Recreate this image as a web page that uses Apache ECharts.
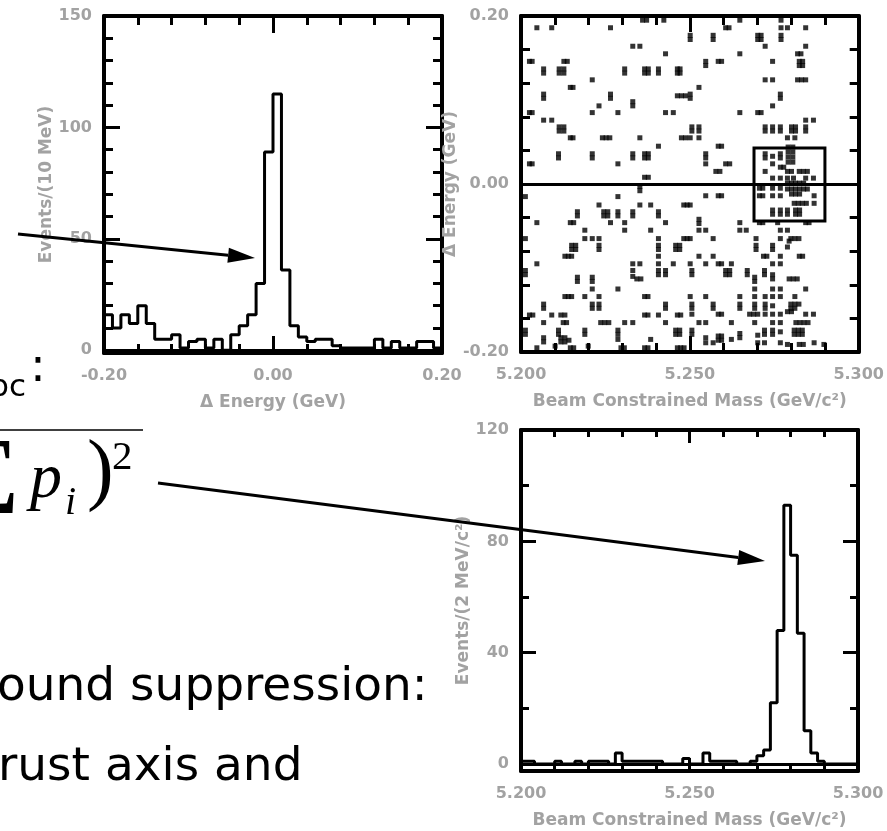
<!DOCTYPE html>
<html><head><meta charset="utf-8">
<script src="https://cdn.jsdelivr.net/npm/echarts@6/dist/echarts.min.js"></script>
<style>html,body{margin:0;padding:0;background:#fff}#c{width:887px;height:831px}</style>
</head><body><div id="c"></div>
<script>
// ---------- data ----------
const energyBinStart = -0.20;
const energyBinWidth = 0.01;
const energyCounts = [16,10,16,12,20,12,5,5,7,1,4,5,1,5,0,7,11,16,30,89,115,36,11,6,4,5,5,2,1,1,1,1,5,1,4,1,1,4,4,1];

const mbcBinStart = 5.200;
const mbcBinWidth = 0.002;
const mbcCounts = [1,1,0,0,0,1,0,0,1,0,1,1,1,0,4,1,1,1,1,1,1,0,0,0,2,0,0,4,1,1,1,1,0,0,1,3,5,22,48,93,75,47,12,4,1,0,0,0,0,0];

const energyCountLabels = [0,50,100,150];
const energyCountMinor = [10,20,30,40,60,70,80,90,110,120,130,140];
const mbcCountLabels = [0,40,80,120];
const mbcCountMinor = [20,60,100];

const signalBox = [[5.269, 0.043], [5.290, -0.044]];

const scatterPoints = [
[5.2047,0.186],[5.2091,0.186],[5.2265,0.186],[5.2360,0.195],[5.2372,0.195],[5.2423,0.195],
[5.2331,0.164],[5.2352,0.164],[5.2428,0.155],
[5.2025,0.146],[5.2033,0.146],[5.2127,0.146],[5.2137,0.146],
[5.2067,0.137],[5.2067,0.132],[5.2113,0.137],[5.2127,0.137],[5.2113,0.132],[5.2127,0.132],
[5.2307,0.137],[5.2307,0.132],[5.2366,0.137],[5.2377,0.137],[5.2366,0.132],[5.2377,0.132],
[5.2407,0.137],[5.2407,0.132],[5.2463,0.137],[5.2471,0.137],[5.2463,0.132],[5.2471,0.132],
[5.2211,0.124],[5.2146,0.115],[5.2154,0.115],
[5.2067,0.107],[5.2067,0.102],[5.2265,0.107],[5.2265,0.102],[5.2463,0.105],[5.2475,0.105],[5.2487,0.105],
[5.2231,0.093],[5.2331,0.098],[5.2331,0.093],
[5.2025,0.085],[5.2033,0.085],[5.2211,0.085],[5.2287,0.085],[5.2428,0.085],[5.2451,0.085],
[5.2067,0.076],[5.2091,0.076],
[5.2113,0.068],[5.2127,0.068],[5.2113,0.063],[5.2127,0.063],
[5.2146,0.055],[5.2154,0.055],[5.2241,0.055],[5.2252,0.055],[5.2263,0.055],[5.2352,0.055],[5.2475,0.055],[5.2487,0.055],
[5.2407,0.045],
[5.2111,0.036],[5.2111,0.031],[5.2211,0.036],[5.2211,0.031],[5.2331,0.036],[5.2331,0.031],
[5.2366,0.036],[5.2377,0.036],[5.2366,0.031],[5.2377,0.031],
[5.2025,0.024],[5.2033,0.024],[5.2287,0.024],[5.2366,0.008],[5.2377,0.008],
[5.2648,0.195],[5.2606,0.186],[5.2616,0.186],[5.2770,0.195],[5.2770,0.186],[5.2789,0.186],[5.2843,0.186],
[5.2501,0.177],[5.2501,0.172],[5.2569,0.177],[5.2569,0.172],
[5.2701,0.177],[5.2711,0.177],[5.2701,0.172],[5.2711,0.172],
[5.2770,0.177],[5.2770,0.172],
[5.2723,0.164],[5.2843,0.164],
[5.2648,0.155],[5.2819,0.155],[5.2829,0.155],
[5.2547,0.146],[5.2547,0.141],[5.2584,0.146],[5.2594,0.146],[5.2745,0.146],
[5.2824,0.146],[5.2834,0.146],[5.2824,0.141],[5.2834,0.141],
[5.2723,0.124],[5.2745,0.124],[5.2819,0.124],[5.2831,0.124],[5.2843,0.124],
[5.2527,0.115],
[5.2501,0.107],[5.2501,0.102],[5.2768,0.107],[5.2768,0.102],
[5.2745,0.093],
[5.2648,0.085],[5.2701,0.085],[5.2711,0.085],
[5.2843,0.076],[5.2866,0.076],
[5.2506,0.068],[5.2506,0.063],[5.2527,0.068],[5.2527,0.063],
[5.2723,0.068],[5.2723,0.063],[5.2745,0.068],[5.2745,0.063],[5.2768,0.068],[5.2768,0.063],
[5.2801,0.068],[5.2813,0.068],[5.2801,0.063],[5.2813,0.063],
[5.2843,0.068],[5.2843,0.063],
[5.2501,0.055],[5.2527,0.055],[5.2789,0.055],[5.2811,0.055],
[5.2584,0.045],[5.2594,0.045],
[5.2791,0.044],[5.2805,0.044],[5.2791,0.038],[5.2805,0.038],[5.2791,0.032],[5.2805,0.032],[5.2791,0.026],[5.2805,0.026],
[5.2547,0.036],[5.2547,0.031],
[5.2723,0.036],[5.2723,0.031],[5.2745,0.033],[5.2768,0.036],[5.2768,0.031],
[5.2547,0.024],[5.2606,0.024],[5.2618,0.024],[5.2745,0.024],
[5.2768,0.020],[5.2778,0.020],
[5.2577,0.015],[5.2589,0.015],[5.2723,0.015],[5.2789,0.015],[5.2801,0.015],
[5.2824,0.015],[5.2836,0.015],[5.2848,0.015],
[5.2745,0.007],[5.2768,0.007],[5.2789,0.007],[5.2807,0.007],[5.2843,0.007],[5.2866,0.007],
[5.2706,-0.005],[5.2716,-0.005],[5.2745,-0.005],[5.2768,-0.005],
[5.2789,0.001],[5.2801,0.001],[5.2813,0.001],[5.2825,0.001],[5.2837,0.001],
[5.2789,-0.006],[5.2801,-0.006],[5.2813,-0.006],[5.2825,-0.006],[5.2837,-0.006],[5.2848,-0.006],
[5.2801,-0.012],[5.2813,-0.012],[5.2825,-0.012],
[5.2706,-0.014],[5.2716,-0.014],[5.2745,-0.014],[5.2768,-0.014],[5.2868,-0.014],
[5.2809,-0.023],[5.2821,-0.023],[5.2833,-0.023],[5.2845,-0.023],[5.2868,-0.023],
[5.2745,-0.031],[5.2745,-0.036],[5.2768,-0.031],[5.2768,-0.036],[5.2789,-0.031],[5.2789,-0.036],
[5.2813,-0.031],[5.2825,-0.031],[5.2813,-0.036],[5.2825,-0.036],
[5.2706,-0.046],[5.2716,-0.046],[5.2760,-0.046],[5.2843,-0.046],[5.2853,-0.046],
[5.2547,-0.014],[5.2584,-0.014],[5.2594,-0.014],[5.2501,-0.025],
[5.2527,-0.042],[5.2527,-0.047],[5.2648,-0.046],
[5.2527,-0.055],[5.2547,-0.055],[5.2648,-0.055],[5.2667,-0.055],[5.2768,-0.055],[5.2789,-0.055],
[5.2501,-0.065],[5.2569,-0.065],[5.2696,-0.065],[5.2768,-0.065],[5.2799,-0.065],[5.2811,-0.065],[5.2823,-0.065],[5.2794,-0.068],
[5.2696,-0.073],[5.2696,-0.078],[5.2745,-0.073],[5.2745,-0.078],[5.2789,-0.075],
[5.2527,-0.086],[5.2569,-0.086],[5.2718,-0.086],[5.2728,-0.086],[5.2768,-0.086],[5.2824,-0.086],[5.2834,-0.086],
[5.2501,-0.095],[5.2547,-0.095],[5.2584,-0.095],[5.2594,-0.095],[5.2623,-0.095],[5.2745,-0.095],[5.2768,-0.095],
[5.2506,-0.103],[5.2506,-0.108],[5.2606,-0.103],[5.2618,-0.103],[5.2606,-0.108],[5.2618,-0.108],
[5.2670,-0.103],[5.2670,-0.108],[5.2721,-0.103],[5.2721,-0.108],[5.2745,-0.108],
[5.2692,-0.111],[5.2692,-0.116],[5.2745,-0.113],[5.2794,-0.113],[5.2806,-0.113],[5.2818,-0.113],
[5.2692,-0.125],[5.2745,-0.125],[5.2768,-0.125],[5.2843,-0.125],
[5.2501,-0.134],[5.2547,-0.134],[5.2648,-0.134],[5.2692,-0.134],[5.2723,-0.134],[5.2745,-0.134],[5.2768,-0.134],[5.2811,-0.134],
[5.2506,-0.143],[5.2506,-0.148],[5.2569,-0.143],[5.2569,-0.148],[5.2648,-0.143],[5.2648,-0.148],
[5.2692,-0.143],[5.2692,-0.148],[5.2723,-0.143],[5.2723,-0.148],[5.2745,-0.145],
[5.2799,-0.143],[5.2811,-0.143],[5.2823,-0.143],[5.2799,-0.148],[5.2811,-0.148],
[5.2506,-0.155],[5.2584,-0.155],[5.2594,-0.155],[5.2677,-0.155],[5.2689,-0.155],[5.2701,-0.155],
[5.2723,-0.155],[5.2745,-0.155],[5.2768,-0.155],[5.2789,-0.152],[5.2801,-0.152],[5.2843,-0.155],[5.2866,-0.155],
[5.2527,-0.165],[5.2547,-0.165],[5.2623,-0.165],[5.2692,-0.165],[5.2745,-0.165],[5.2768,-0.165],
[5.2814,-0.165],[5.2826,-0.165],[5.2838,-0.165],[5.2850,-0.165],
[5.2506,-0.174],[5.2506,-0.179],[5.2547,-0.183],[5.2584,-0.181],[5.2594,-0.181],[5.2584,-0.186],[5.2594,-0.186],
[5.2648,-0.178],[5.2648,-0.183],[5.2701,-0.180],[5.2721,-0.174],[5.2721,-0.179],[5.2745,-0.174],[5.2745,-0.179],[5.2768,-0.176],
[5.2809,-0.174],[5.2821,-0.174],[5.2833,-0.174],[5.2809,-0.179],[5.2821,-0.179],[5.2833,-0.179],
[5.2547,-0.189],[5.2569,-0.189],[5.2623,-0.185],[5.2701,-0.189],[5.2721,-0.189],[5.2768,-0.189],
[5.2789,-0.191],[5.2824,-0.191],[5.2836,-0.191],[5.2868,-0.189],[5.2897,-0.191],
[5.2352,-0.003],[5.2352,-0.008],
[5.2013,-0.015],[5.2287,-0.015],
[5.2231,-0.025],[5.2352,-0.025],[5.2384,-0.025],[5.2482,-0.025],[5.2492,-0.025],
[5.2167,-0.033],[5.2167,-0.038],[5.2245,-0.033],[5.2257,-0.033],[5.2245,-0.038],[5.2257,-0.038],
[5.2287,-0.033],[5.2287,-0.038],[5.2331,-0.033],[5.2331,-0.038],[5.2407,-0.033],[5.2407,-0.038],
[5.2047,-0.046],[5.2146,-0.046],[5.2156,-0.046],[5.2265,-0.046],[5.2307,-0.046],[5.2428,-0.046],
[5.2189,-0.055],[5.2307,-0.055],[5.2384,-0.055],
[5.2013,-0.065],[5.2189,-0.065],[5.2211,-0.065],[5.2231,-0.065],[5.2407,-0.065],[5.2482,-0.065],[5.2492,-0.065],
[5.2150,-0.073],[5.2162,-0.073],[5.2150,-0.078],[5.2162,-0.078],[5.2231,-0.073],[5.2231,-0.078],
[5.2407,-0.073],[5.2407,-0.078],[5.2458,-0.073],[5.2470,-0.073],[5.2458,-0.078],[5.2470,-0.078],
[5.2130,-0.086],[5.2140,-0.086],[5.2150,-0.086],[5.2407,-0.086],
[5.2047,-0.095],[5.2331,-0.095],[5.2352,-0.095],[5.2407,-0.095],[5.2451,-0.095],
[5.2013,-0.103],[5.2013,-0.108],[5.2331,-0.103],[5.2331,-0.110],[5.2343,-0.113],[5.2355,-0.113],
[5.2407,-0.103],[5.2407,-0.108],[5.2428,-0.103],[5.2428,-0.108],
[5.2167,-0.111],[5.2167,-0.116],[5.2211,-0.111],[5.2211,-0.116],
[5.2211,-0.125],[5.2287,-0.125],
[5.2130,-0.134],[5.2140,-0.134],[5.2150,-0.134],[5.2189,-0.134],[5.2231,-0.134],[5.2366,-0.134],[5.2376,-0.134],
[5.2067,-0.143],[5.2067,-0.148],[5.2211,-0.143],[5.2211,-0.148],[5.2231,-0.143],[5.2231,-0.148],[5.2428,-0.143],[5.2428,-0.148],
[5.2025,-0.156],[5.2035,-0.156],[5.2091,-0.156],[5.2118,-0.156],[5.2130,-0.156],[5.2366,-0.156],[5.2376,-0.156],
[5.2407,-0.156],[5.2463,-0.156],[5.2473,-0.156],
[5.2067,-0.165],[5.2125,-0.165],[5.2135,-0.165],[5.2236,-0.165],[5.2248,-0.165],[5.2260,-0.165],
[5.2307,-0.165],[5.2331,-0.165],[5.2428,-0.165],
[5.2013,-0.174],[5.2013,-0.179],[5.2111,-0.174],[5.2111,-0.179],[5.2189,-0.174],[5.2189,-0.179],
[5.2287,-0.174],[5.2287,-0.179],[5.2458,-0.174],[5.2470,-0.174],[5.2458,-0.179],[5.2470,-0.179],
[5.2067,-0.183],[5.2067,-0.188],[5.2118,-0.183],[5.2130,-0.183],[5.2142,-0.186],[5.2118,-0.188],[5.2130,-0.188],
[5.2287,-0.185],[5.2384,-0.185],
[5.2047,-0.195],[5.2101,-0.193],[5.2146,-0.195],[5.2156,-0.195],[5.2199,-0.193],[5.2296,-0.195],[5.2306,-0.195],
[5.2366,-0.195],[5.2376,-0.195],[5.2463,-0.195],[5.2473,-0.195],[5.2483,-0.195]
];

// ---------- helpers ----------
function stepData(start, width, counts) {
  const d = [[start, 0]];
  counts.forEach((c, i) => d.push([start + i * width, c]));
  d.push([start + counts.length * width, 0]);
  return d;
}
const GRAY = '#a2a2a2';
const tickLab = {color: GRAY, fontFamily: 'DejaVu Sans', fontSize: 16, fontWeight: 'bold'};
const nameLab = {color: GRAY, fontFamily: 'DejaVu Sans', fontSize: 17, fontWeight: 'bold'};
const blk = {color: '#000', width: 3};
const frameLine = {show: true, onZero: false, lineStyle: {color: '#000', width: 4}};

function xPair(gi, min, max, interval, majLen, minLen, dec, name) {
  const common = {gridIndex: gi, type: 'value', min, max, interval, splitLine: {show: false},
    axisTick: {show: true, inside: true, length: majLen, lineStyle: blk},
    minorTick: {show: true, splitNumber: 5, length: minLen, lineStyle: blk}, axisLine: frameLine};
  return [
    Object.assign({}, common, {position: 'bottom', name, nameLocation: 'middle', nameGap: 41,
      nameTextStyle: nameLab,
      axisLabel: Object.assign({show: true, margin: 15, showMinLabel: true, showMaxLabel: true,
        formatter: v => v.toFixed(dec)}, tickLab)}),
    Object.assign({}, common, {position: 'top', axisLabel: {show: false}})
  ];
}
function yQuad(gi, min, max, major, minor, labels, majLen, minLen, name, nameGap) {
  const base = {gridIndex: gi, type: 'value', min, max, splitLine: {show: false},
    axisLine: {show: false, onZero: false}, axisLabel: {show: false}};
  const majT = {show: true, inside: true, length: majLen, customValues: major, lineStyle: blk};
  const minT = {show: true, inside: true, length: minLen, customValues: minor, lineStyle: blk};
  return [
    Object.assign({}, base, {position: 'left', axisLine: frameLine, axisTick: majT,
      name, nameLocation: 'middle', nameGap, nameTextStyle: nameLab,
      axisLabel: Object.assign({show: true, margin: 12, customValues: labels, formatter: v => String(v)}, tickLab)}),
    Object.assign({}, base, {position: 'left', axisTick: minT}),
    Object.assign({}, base, {position: 'right', axisLine: frameLine, axisTick: majT}),
    Object.assign({}, base, {position: 'right', axisTick: minT})
  ];
}
function arrow(x1, y1, x2, y2) {
  const dx = x2 - x1, dy = y2 - y1, L = Math.hypot(dx, dy), ux = dx / L, uy = dy / L;
  const bx = x2 - ux * 27, by = y2 - uy * 27, px = -uy, py = ux;
  return [
    {type: 'line', z: 100, shape: {x1, y1, x2: bx, y2: by}, style: {stroke: '#000', lineWidth: 3}},
    {type: 'polygon', z: 100, shape: {points: [[x2, y2], [bx + px * 7.5, by + py * 7.5], [bx - px * 7.5, by - py * 7.5]]}, style: {fill: '#000'}}
  ];
}
function txt(text, x, y, font, align) {
  return {type: 'text', z: 100, style: {text, x, y, font, fill: '#000',
    align: align || 'left', verticalAlign: 'middle', textAlign: align || 'left', textVerticalAlign: 'middle'}};
}

// ---------- chart ----------
const chart = echarts.init(document.getElementById('c'), null, {renderer: 'canvas'});
const xAxes = [].concat(
  xPair(0, -0.2, 0.2, 0.2, 17, 9, 2, 'Δ Energy (GeV)'),
  xPair(1, 5.2, 5.3, 0.05, 16, 9, 3, 'Beam Constrained Mass (GeV/c²)'),
  xPair(2, 5.2, 5.3, 0.05, 13, 7, 3, 'Beam Constrained Mass (GeV/c²)')
);
const scatterY = {gridIndex: 1, type: 'value', min: -0.2, max: 0.2, interval: 0.2, splitLine: {show: false},
  axisLine: frameLine, axisTick: {show: true, inside: true, length: 10, lineStyle: blk},
  minorTick: {show: true, splitNumber: 5, length: 9, lineStyle: blk}};
const yAxes = [].concat(
  yQuad(0, -1.2, 150, energyCountLabels, energyCountMinor, energyCountLabels, 16, 9, 'Events/(10 MeV)', 47),
  [Object.assign({}, scatterY, {position: 'left', name: 'Δ Energy (GeV)', nameLocation: 'middle', nameGap: 46,
      nameTextStyle: nameLab, axisLabel: Object.assign({show: true, margin: 12, showMinLabel: true, showMaxLabel: true, formatter: v => v.toFixed(2)}, tickLab)}),
   Object.assign({}, scatterY, {position: 'right', axisLabel: {show: false}})],
  yQuad(2, -2.5, 120, mbcCountLabels, mbcCountMinor, mbcCountLabels, 15, 8, 'Events/(2 MeV/c²)', 47)
);

const graphics = [].concat(
  arrow(18, 234, 255, 258),
  arrow(158, 483, 765, 561),
  [
    txt('bc', 26, 388, '31px "DejaVu Sans"', 'right'),
    txt(':', 30, 369, '47px "DejaVu Sans"'),
    {type: 'line', z: 100, shape: {x1: 0, y1: 430, x2: 143, y2: 430}, style: {stroke: '#000', lineWidth: 1.5}},
    txt('Σ', 19, 484, '110px "Liberation Serif"', 'right'),
    txt('p', 30, 480, 'italic 64px "Liberation Serif"'),
    txt('i', 65, 503, 'italic 40px "Liberation Serif"'),
    txt(')', 87, 474, '80px "Liberation Serif"'),
    txt('2', 112, 458, '41px "Liberation Serif"'),
    txt('ound suppression:', -3, 688, '47px "DejaVu Sans"'),
    txt('rust axis and', -2, 768, '47px "DejaVu Sans"')
  ]
);

chart.setOption({
  backgroundColor: '#fff',
  animation: false,
  grid: [
    {left: 104, top: 16, width: 338, height: 337},
    {left: 521, top: 16, width: 338, height: 336},
    {left: 521, top: 430, width: 337, height: 341}
  ],
  xAxis: xAxes,
  yAxis: yAxes,
  series: [
    {type: 'line', xAxisIndex: 0, yAxisIndex: 0, step: 'end', symbol: 'none',
     data: stepData(energyBinStart, energyBinWidth, energyCounts),
     lineStyle: {color: '#000', width: 3},
     markLine: {silent: true, symbol: 'none', label: {show: false}, lineStyle: {color: '#000', width: 3, type: 'solid'}, data: [{yAxis: 0}]}},
    {type: 'scatter', xAxisIndex: 2, yAxisIndex: 4, symbol: 'rect', symbolSize: [5, 5],
     itemStyle: {color: '#000'}, data: scatterPoints,
     markLine: {silent: true, symbol: 'none', label: {show: false}, lineStyle: {color: '#000', width: 3, type: 'solid'}, data: [{yAxis: 0}]},
     markArea: {silent: true, itemStyle: {color: 'rgba(0,0,0,0)', borderColor: '#000', borderWidth: 3},
       data: [[{coord: signalBox[0]}, {coord: signalBox[1]}]]}},
    {type: 'line', xAxisIndex: 4, yAxisIndex: 6, step: 'end', symbol: 'none',
     data: stepData(mbcBinStart, mbcBinWidth, mbcCounts),
     lineStyle: {color: '#000', width: 3},
     markLine: {silent: true, symbol: 'none', label: {show: false}, lineStyle: {color: '#000', width: 3, type: 'solid'}, data: [{yAxis: 0}]}}
  ],
  graphic: graphics
});
</script></body></html>
